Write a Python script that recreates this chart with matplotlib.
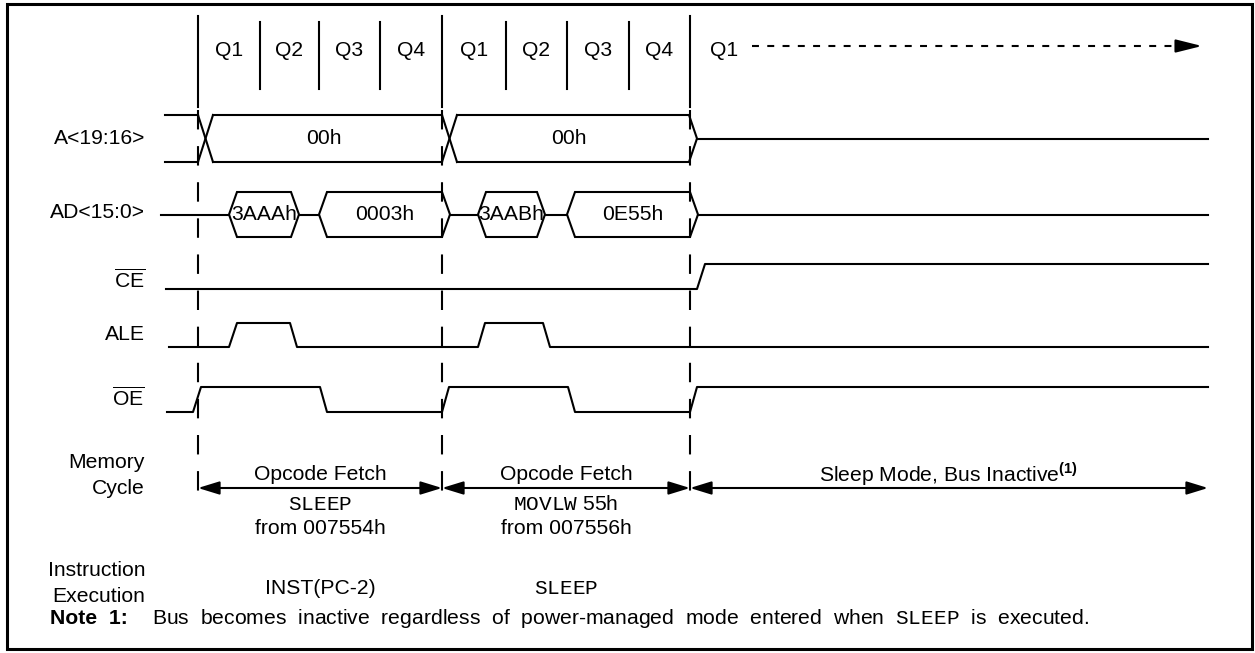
import matplotlib
matplotlib.use("Agg")
import matplotlib.pyplot as plt
from matplotlib.patches import Rectangle, FancyArrowPatch, Polygon

plt.rcParams['font.family'] = 'Liberation Sans'
plt.rcParams['mathtext.fontset'] = 'custom'
plt.rcParams['mathtext.rm'] = 'Liberation Sans'
plt.rcParams['mathtext.bf'] = 'Liberation Sans:bold'
plt.rcParams['mathtext.tt'] = 'Liberation Mono'
plt.rcParams['lines.scale_dashes'] = False

# timing (x in pixels of the drawing)
q_edges = [198, 260, 319, 380, 442, 506, 567, 629, 690]
q_labels = ['Q1', 'Q2', 'Q3', 'Q4', 'Q1', 'Q2', 'Q3', 'Q4']
cycle_edges = [198, 442, 690]
t_start = 165
t_end = 1208

# signal rows: (high y, low y)
rows = {'A': (115, 162), 'AD': (192, 237), 'CE': (264, 289),
        'ALE': (323, 347), 'OE': (387, 412)}
row_labels = ['A<19:16>', 'AD<15:0>', r'$\overline{\mathrm{CE}}$', 'ALE',
              r'$\overline{\mathrm{OE}}$']
row_label_y = [138, 213, 280, 335, 398]

# A bus values
a_cells = [(213, 442, '00h'), (457, 689, '00h')]
# AD bus values (start, end, label)
ad_cells = [(229, 299, '3AAAh'), (319, 450, '0003h'),
            (478, 545, '3AABh'), (567, 698, '0E55h')]

# digital signals: x, level
ce_x = [166, 697, 705, 1208]
ce_lvl = [0, 0, 1, 1]
ale_x = [169, 229, 237, 290, 297, 478, 485, 543, 550, 1208]
ale_lvl = [0, 0, 1, 1, 0, 0, 1, 1, 0, 0]
oe_x = [167, 193, 201, 320, 327, 442, 449, 568, 575, 690, 697, 1208]
oe_lvl = [0, 0, 1, 1, 0, 0, 1, 1, 0, 0, 1, 1]

mem_cycles = [(198, 442, 'Opcode Fetch', r'$\mathtt{SLEEP}$', 'from 007554h'),
              (442, 690, 'Opcode Fetch', r'$\mathtt{MOVLW}$ 55h', 'from 007556h'),
              (690, 1208, r'Sleep Mode, Bus Inactive$^{\mathbf{(1)}}$', '', '')]
exec_labels = ['INST(PC-2)', r'$\mathtt{SLEEP}$']
note_words = ['Bus', 'becomes', 'inactive', 'regardless', 'of', 'power-managed', 'mode',
              'entered', 'when', r'$\mathtt{SLEEP}$', 'is', 'executed.']

FS = 15.2
LW = 1.5

fig = plt.figure(figsize=(12.55, 6.53), dpi=100)
ax = fig.add_axes([0, 0, 1, 1])
ax.set_xlim(0, 1255)
ax.set_ylim(653, 0)
ax.axis('off')

ax.add_patch(Rectangle((7, 4), 1245, 645, fill=False, lw=2.2, ec='black'))

# Q separators and labels
for x in q_edges:
    if x in cycle_edges:
        ax.plot([x, x], [16, 107], color='black', lw=LW)
    else:
        ax.plot([x, x], [22, 89], color='black', lw=LW)
for i, lab in enumerate(q_labels):
    ax.text((q_edges[i] + q_edges[i + 1]) / 2, 50, lab, ha='center', va='center', fontsize=FS)
ax.text(724, 50, 'Q1', ha='center', va='center', fontsize=FS)
ax.plot([752, 1186], [46, 46], color='black', lw=LW, dashes=(5, 6))
ax.add_patch(FancyArrowPatch((1180, 46), (1202, 46), arrowstyle='-|>,head_length=16,head_width=4',
                             mutation_scale=1, shrinkA=0, shrinkB=0, color='black', lw=LW))

# dashed cycle boundaries
for x in cycle_edges:
    ax.plot([x, x], [110, 503], color='black', lw=LW, dashes=(14, 12))

# row labels
for lab, y in zip(row_labels, row_label_y):
    ax.text(145, y, lab, ha='right', va='center', fontsize=FS)

# A bus
hi, lo = rows['A']
mid = (hi + lo) / 2
ax.plot([t_start, 198], [hi, hi], color='black', lw=LW)
ax.plot([t_start, 198], [lo, lo], color='black', lw=LW)
prev = 198
for x0, x1, lab in a_cells:
    ax.plot([prev, x0], [hi, lo], color='black', lw=LW)
    ax.plot([prev, x0], [lo, hi], color='black', lw=LW)
    ax.plot([x0, x1], [hi, hi], color='black', lw=LW)
    ax.plot([x0, x1], [lo, lo], color='black', lw=LW)
    ax.text((x0 + x1) / 2 - 4, mid, lab, ha='center', va='center', fontsize=FS)
    prev = x1
ax.plot([prev, prev + 8, prev], [hi, mid, lo], color='black', lw=LW)
ax.plot([prev + 8, t_end], [mid, mid], color='black', lw=LW)

# AD bus
hi, lo = rows['AD']
mid = (hi + lo) / 2
s = 8
prev = 161
for x0, x1, lab in ad_cells:
    ax.plot([prev, x0], [mid, mid], color='black', lw=LW)
    ax.add_patch(Polygon([(x0, mid), (x0 + s, hi), (x1 - s, hi), (x1, mid), (x1 - s, lo), (x0 + s, lo)],
                         closed=True, fill=False, ec='black', lw=LW))
    ax.text((x0 + x1) / 2, mid, lab, ha='center', va='center', fontsize=FS)
    prev = x1
ax.plot([prev, t_end], [mid, mid], color='black', lw=LW)

# digital lines
for key, xs, lv in [('CE', ce_x, ce_lvl), ('ALE', ale_x, ale_lvl), ('OE', oe_x, oe_lvl)]:
    hi, lo = rows[key]
    ax.plot(xs, [lo - l * (lo - hi) for l in lv], color='black', lw=LW)

# memory cycle
ax.text(145, 462, 'Memory', ha='right', va='center', fontsize=FS)
ax.text(145, 488, 'Cycle', ha='right', va='center', fontsize=FS)
for x0, x1, l1, l2, l3 in mem_cycles:
    ax.add_patch(FancyArrowPatch((x0, 488), (x1, 488), arrowstyle='<|-|>,head_length=13,head_width=4',
                                 mutation_scale=1, shrinkA=0, shrinkB=0, color='black', lw=LW))
    xc = (x0 + x1) / 2
    ax.text(xc, 474, l1, ha='center', va='center', fontsize=FS)
    if l2:
        ax.text(xc, 504, l2, ha='center', va='center', fontsize=FS)
        ax.text(xc, 528, l3, ha='center', va='center', fontsize=FS)

# instruction execution
ax.text(145, 570, 'Instruction', ha='right', va='center', fontsize=FS)
ax.text(145, 597, 'Execution', ha='right', va='center', fontsize=FS)
for i, lab in enumerate(exec_labels):
    ax.text((cycle_edges[i] + cycle_edges[i + 1]) / 2, 588, lab, ha='center', va='center', fontsize=FS)

# note (justified text, wider word spacing)
ax.text(50, 618, 'Note  1:', ha='left', va='center', fontsize=FS, fontweight='bold')
ax.text(152, 618, '  '.join(note_words), ha='left', va='center', fontsize=FS)

fig.savefig('out.png', dpi=100)
